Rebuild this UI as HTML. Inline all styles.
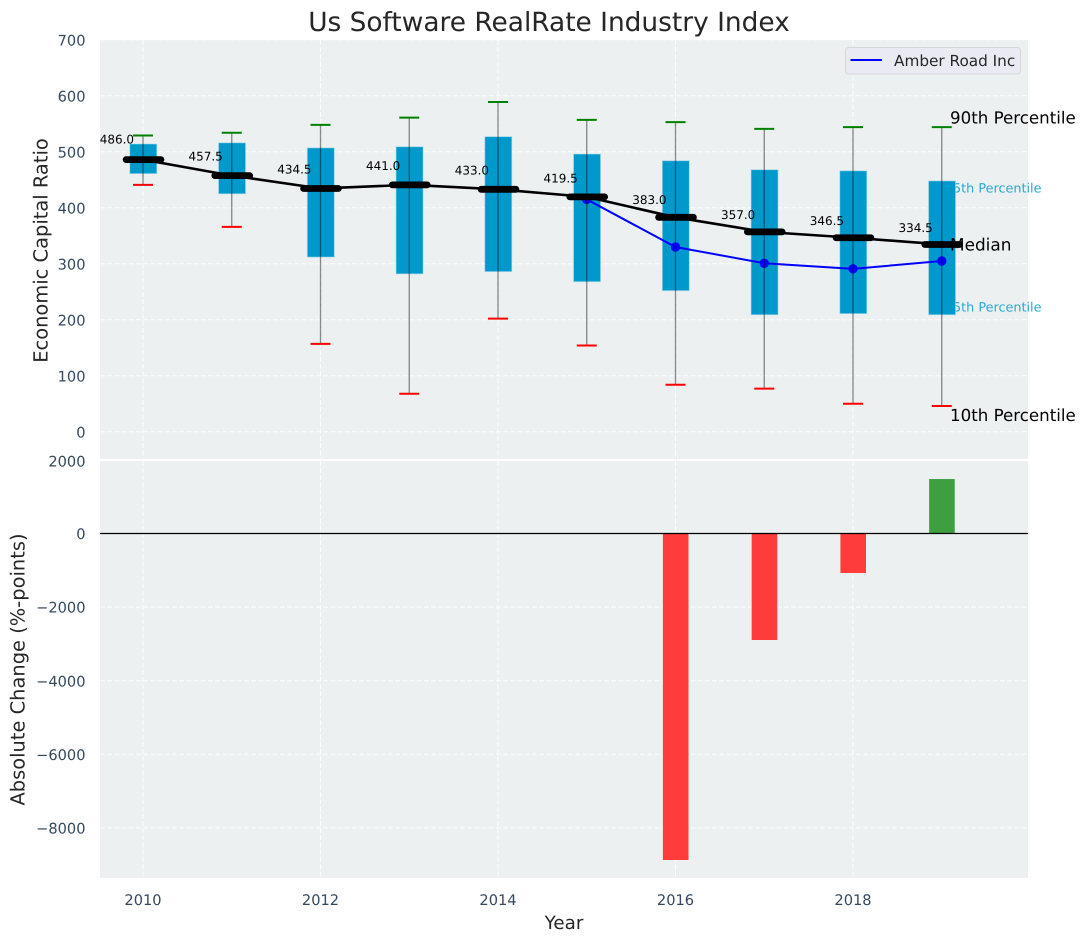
<!DOCTYPE html>
<html lang="en">
<head>
<meta charset="utf-8">
<title>Us Software RealRate Industry Index</title>
<style>
html,body{margin:0;padding:0;background:#fff;width:1085px;height:942px;overflow:hidden}
svg{display:block}
text{font-family:"DejaVu Sans","Liberation Sans",sans-serif;text-rendering:geometricPrecision}
</style>
</head>
<body>
<svg id="chart" width="1085" height="942" viewBox="0 0 1085 942" xmlns="http://www.w3.org/2000/svg"></svg>
<script>
const years = [2010,2011,2012,2013,2014,2015,2016,2017,2018,2019];
const p90 = [529,534,548,561,589,557,553,541,544,544];
const p75 = [514,516,507,509,527,496,484,468,466,448];
const medians = [486.0,457.5,434.5,441.0,433.0,419.5,383.0,357.0,346.5,334.5];
const p25 = [461,425,312,282,286,268,252,209,211,209];
const p10 = [441,366,157,68,202,154,84,77,50,46];
const companyYears = [2015,2016,2017,2018,2019];
const companyValues = [415,330,301,291,305];
const changeYears = [2016,2017,2018,2019];
const changeValues = [-8872,-2894,-1073,1480];
const topTicks = [0,100,200,300,400,500,600,700];
const bottomTicks = [-8000,-6000,-4000,-2000,0,2000];
const xTicks = [2010,2012,2014,2016,2018];

const NS = 'http://www.w3.org/2000/svg';
const svg = document.getElementById('chart');
const L = 100, R = 1028, T1 = 40, B1 = 459, T2 = 461, B2 = 878;
const X = v => 143 + (v - 2010) * 88.75;
const Y1 = v => 431.8 - v * 0.56;
const Y2 = v => 533.5 - v * 0.0368;

function mk(tag, attrs, txt) {
  const e = document.createElementNS(NS, tag);
  for (const k in attrs) e.setAttribute(k, attrs[k]);
  if (txt !== undefined) e.textContent = txt;
  svg.appendChild(e);
  return e;
}
const fmtTick = v => (v < 0 ? '\u2212' + (-v) : String(v));
let el;

// panels
el = mk('rect', {x:L, y:T1, width:R-L, height:B1-T1, fill:'#ecf0f1'});


el = mk('rect', {x:L, y:T2, width:R-L, height:B2-T2, fill:'#ecf0f1'});



// grid
const gridStyle = {stroke:'#ffffff', 'stroke-width':1, 'stroke-dasharray':'5 2.2', fill:'none', opacity:0.9};
topTicks.forEach(t => {
  el = mk('line', Object.assign({x1:L, x2:R, y1:Y1(t), y2:Y1(t)}, gridStyle));
  
  
});
bottomTicks.forEach(t => {
  if (t === 2000) return;
  el = mk('line', Object.assign({x1:L, x2:R, y1:Y2(t), y2:Y2(t)}, gridStyle));
  
  
});
xTicks.forEach(t => {
  el = mk('line', Object.assign({x1:X(t), x2:X(t), y1:T1, y2:B1}, gridStyle));
  
  
  el = mk('line', Object.assign({x1:X(t), x2:X(t), y1:T2, y2:B2}, gridStyle));
  
  
});

// tick labels
const tickColor = '#34495e';
topTicks.forEach(t => {
  el = mk('text', {x:85.5, y:Y1(t)+5.6, 'text-anchor':'end', 'font-size':14.6, fill:tickColor}, fmtTick(t));
  
  
});
bottomTicks.forEach(t => {
  el = mk('text', {x:85.5, y:Y2(t)+(t === 2000 ? 6.8 : 5.6), 'text-anchor':'end', 'font-size':14.6, fill:tickColor}, fmtTick(t));
  
  
});
xTicks.forEach(t => {
  el = mk('text', {x:X(t), y:905, 'text-anchor':'middle', 'font-size':14.6, fill:tickColor}, String(t));
  
  
});

// side labels beneath boxes
const last = years.length - 1;
el = mk('text', {x:1041.5, y:Y1(p75[last])+11.5, 'text-anchor':'end', 'font-size':12.8, fill:'#29a9d6'}, '75th Percentile');


el = mk('text', {x:1041.5, y:Y1(p25[last])-3.5, 'text-anchor':'end', 'font-size':12.8, fill:'#29a9d6'}, '25th Percentile');



// boxes
years.forEach((y, i) => {
  el = mk('rect', {x:X(y)-13.2, y:Y1(p75[i]), width:27, height:Y1(p25[i])-Y1(p75[i]), fill:'#0099cc', stroke:'#a8dcec', 'stroke-width':0.8, 'stroke-opacity':0.7});
  
  
});

// company line
const companyPts = companyYears.map((y, i) => X(y) + ',' + Y1(companyValues[i])).join(' ');
el = mk('polyline', {points:companyPts, fill:'none', stroke:'#0000ff', 'stroke-width':2});


companyYears.forEach((y, i) => {
  el = mk('circle', {cx:X(y), cy:Y1(companyValues[i]), r:4.7, fill:'#0000ff'});
  
  
});

// whiskers and caps
years.forEach((y, i) => {
  el = mk('line', {x1:X(y), x2:X(y), y1:Y1(p90[i]), y2:Y1(p10[i]), stroke:'#000', 'stroke-opacity':0.45, 'stroke-width':1.3});
  
  
  el = mk('line', {x1:X(y)-10, x2:X(y)+10, y1:Y1(p90[i]), y2:Y1(p90[i]), stroke:'#008000', 'stroke-width':2});
  
  
  el = mk('line', {x1:X(y)-10, x2:X(y)+10, y1:Y1(p10[i]), y2:Y1(p10[i]), stroke:'#ff0000', 'stroke-width':2});
  
  
});

// median line and marks
const medianPts = years.map((y, i) => X(y) + ',' + Y1(medians[i])).join(' ');
el = mk('polyline', {points:medianPts, fill:'none', stroke:'#000', 'stroke-width':2.6});


years.forEach((y, i) => {
  el = mk('line', {x1:X(y)-16.9, x2:X(y)+17.9, y1:Y1(medians[i]), y2:Y1(medians[i]), stroke:'#000', 'stroke-width':6.8, 'stroke-linecap':'round'});
  
  
  el = mk('text', {x:X(y)-43.3, y:Y1(medians[i] * 1.044 + 7.2), 'font-size':12, fill:'#000'}, medians[i].toFixed(1));
  
  
});

// side labels above boxes
el = mk('text', {x:950, y:Y1(p90[last])-3.5, 'font-size':16.67, fill:'#000'}, '90th Percentile');


el = mk('text', {x:950, y:Y1(medians[last])+6, 'font-size':16.9, fill:'#000'}, 'Median');


el = mk('text', {x:950, y:Y1(p10[last])+15, 'font-size':16.67, fill:'#000'}, '10th Percentile');



// change bars
changeYears.forEach((y, i) => {
  const v = changeValues[i];
  el = mk('rect', {x:X(y)-12.6, y:Math.min(Y2(v), Y2(0)), width:25.6, height:Math.abs(Y2(v)-Y2(0)), fill:v < 0 ? '#ff3c3c' : '#3d9f40'});
  
  
});
el = mk('line', {x1:L, x2:R, y1:Y2(0), y2:Y2(0), stroke:'#000', 'stroke-width':1.2});



// titles
el = mk('text', {x:549, y:31, 'text-anchor':'middle', 'font-size':26.4, fill:'#262626'}, 'Us Software RealRate Industry Index');


el = mk('text', {x:564, y:929, 'text-anchor':'middle', 'font-size':18.3, fill:'#262626'}, 'Year');


el = mk('text', {transform:'translate(47.5,250.5) rotate(-90)', 'text-anchor':'middle', 'font-size':19.44, fill:'#262626'}, 'Economic Capital Ratio');


el = mk('text', {transform:'translate(24.5,669.5) rotate(-90)', 'text-anchor':'middle', 'font-size':19.44, fill:'#262626'}, 'Absolute Change (%-points)');



// legend
el = mk('rect', {x:845.5, y:47.5, width:175, height:26.5, rx:3, fill:'#eaeaf2', stroke:'#d6d6dc', 'stroke-width':1});


el = mk('line', {x1:850.5, x2:882, y1:60, y2:60, stroke:'#0000ff', 'stroke-width':2});


el = mk('text', {x:894, y:66, 'font-size':15.28, fill:'#262626'}, 'Amber Road Inc');


</script>
</body>
</html>
